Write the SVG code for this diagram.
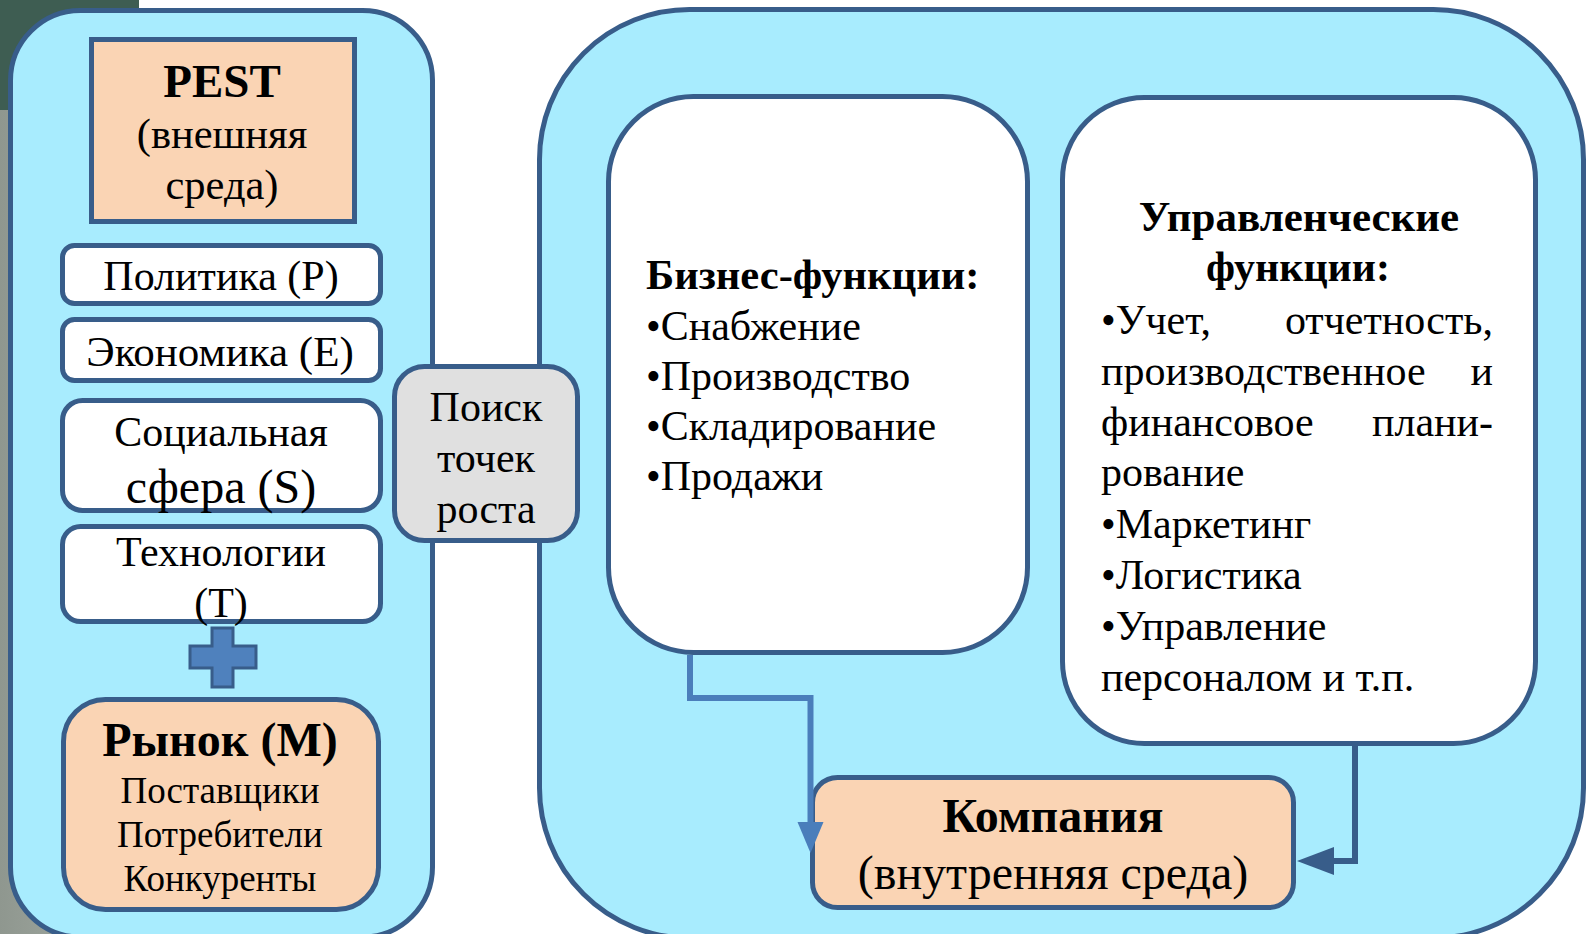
<svg xmlns="http://www.w3.org/2000/svg" width="1587" height="934" viewBox="0 0 1587 934" font-size="42">
<style>
.t{font-family:"Liberation Serif","Times New Roman",serif;fill:#000}
.b{font-weight:bold}
.c{text-anchor:middle}
.e{text-anchor:end}
.big{fill:#A8ECFE;stroke:#385D8A;stroke-width:5}
.wb{fill:#FFFFFF;stroke:#385D8A;stroke-width:5}
.pe{fill:#FAD4B4;stroke:#385D8A;stroke-width:5}
</style>
<defs>
<linearGradient id="bg" x1="0" y1="0" x2="1" y2="0">
<stop offset="0" stop-color="#8F978F"/>
<stop offset="1" stop-color="#A9B0A8"/>
</linearGradient>
</defs>
<rect x="0" y="0" width="1587" height="934" fill="#FFFFFF"/>
<rect x="0" y="110" width="140" height="824" fill="url(#bg)"/>
<rect x="0" y="0" width="139" height="110" fill="#3E5D52"/>

<g id="left-panel"><rect class="big" x="10.5" y="10.5" width="422" height="926.5" rx="70"/></g>
<g id="right-panel"><rect class="big" x="539.5" y="9.5" width="1044" height="928.5" rx="150"/></g>

<g id="pest">
<rect class="pe" x="91.5" y="39.5" width="263" height="182"/>
<text class="t b c" x="222" y="97" font-size="47">PEST</text>
<text class="t c" x="222" y="148" font-size="42.5">(внешняя</text>
<text class="t c" x="222" y="199" font-size="42.5">среда)</text>
</g>

<g id="politika">
<rect class="wb" x="62.5" y="245.5" width="318" height="58" rx="12"/>
<text class="t c" x="221" y="290">Политика (Р)</text>
</g>
<g id="ekonomika">
<rect class="wb" x="62.5" y="319.5" width="318" height="61" rx="12"/>
<text class="t c" x="220" y="366" font-size="43">Экономика (Е)</text>
</g>
<g id="socialnaya">
<rect class="wb" x="62.5" y="400.5" width="318" height="110" rx="20"/>
<text class="t c" x="221" y="446">Социальная</text>
<text class="t c" x="221" y="503" font-size="48">сфера (S)</text>
</g>
<g id="tehnologii">
<rect class="wb" x="62.5" y="526.5" width="318" height="95" rx="18"/>
<text class="t c" x="221" y="566">Технологии</text>
<text class="t c" x="221" y="617">(Т)</text>
</g>

<g id="plus">
<polygon points="212,628 233,628 233,646 256,646 256,668 233,668 233,687 212,687 212,668 190,668 190,646 212,646" fill="#4F81BD" stroke="#385D8A" stroke-width="3"/>
</g>

<g id="rynok">
<rect class="pe" x="63.5" y="699.5" width="315" height="210" rx="42"/>
<text class="t b c" x="220" y="756" font-size="48">Рынок (М)</text>
<text class="t c" x="220" y="803" font-size="37">Поставщики</text>
<text class="t c" x="220" y="847" font-size="37">Потребители</text>
<text class="t c" x="220" y="891" font-size="37">Конкуренты</text>
</g>

<g id="poisk">
<rect x="394.5" y="366.5" width="183" height="174" rx="30" fill="#E0E0E0" stroke="#385D8A" stroke-width="5"/>
<text class="t c" x="486" y="421">Поиск</text>
<text class="t c" x="486" y="472">точек</text>
<text class="t c" x="486" y="523">роста</text>
</g>

<g id="biznes">
<rect class="wb" x="608.5" y="96.5" width="419" height="556" rx="85"/>
<text class="t b" x="646" y="289" font-size="42.6">Бизнес-функции:</text>
<text class="t" x="646" y="340">•Снабжение</text>
<text class="t" x="646" y="390">•Производство</text>
<text class="t" x="646" y="440">•Складирование</text>
<text class="t" x="646" y="490">•Продажи</text>
</g>

<g id="upravlencheskie">
<rect class="wb" x="1062.5" y="97.5" width="473" height="646" rx="82"/>
<text class="t b c" x="1299" y="231" font-size="43">Управленческие</text>
<text class="t b c" x="1298" y="281">функции:</text>
<text class="t" x="1101" y="334">•Учет,</text>
<text class="t e" x="1493" y="334">отчетность,</text>
<text class="t" x="1101" y="385">производственное</text>
<text class="t e" x="1493" y="385">и</text>
<text class="t" x="1101" y="436">финансовое</text>
<text class="t e" x="1493" y="436">плани-</text>
<text class="t" x="1101" y="486">рование</text>
<text class="t" x="1101" y="538">•Маркетинг</text>
<text class="t" x="1101" y="589">•Логистика</text>
<text class="t" x="1101" y="640">•Управление</text>
<text class="t" x="1101" y="691">персоналом и т.п.</text>
</g>

<g id="kompaniya">
<rect class="pe" x="812.5" y="777.5" width="481" height="130" rx="25"/>
<text class="t b c" x="1053" y="832" font-size="48">Компания</text>
<text class="t c" x="1053" y="889" font-size="48">(внутренняя среда)</text>
</g>

<g id="connectors">
<path d="M690,655 V698 H810.5 V824" fill="none" stroke="#4A7EBB" stroke-width="6"/>
<polygon points="797.5,822 823.5,822 810.5,853" fill="#4A7EBB"/>
<path d="M1355,746 V861 H1332" fill="none" stroke="#385D8A" stroke-width="6"/>
<polygon points="1334,847 1334,875 1297,861" fill="#385D8A"/>
</g>
</svg>
